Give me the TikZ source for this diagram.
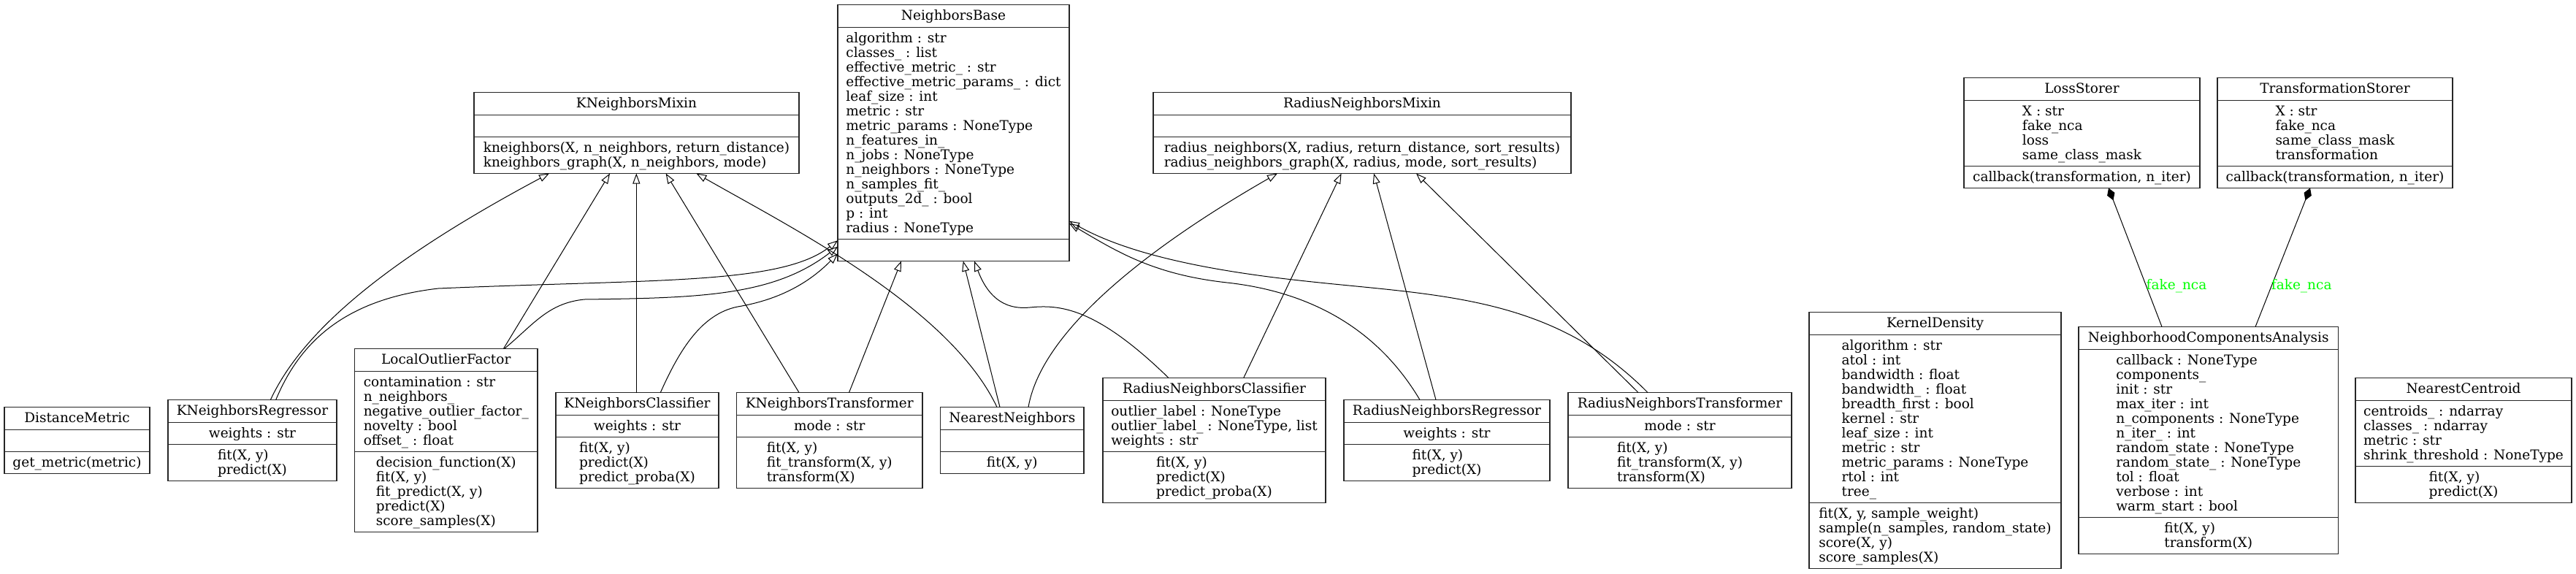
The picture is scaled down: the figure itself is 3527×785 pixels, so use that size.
\documentclass[tikz,border=0pt]{standalone}
\usepackage{fontspec}
\setmainfont{DejaVu Serif}
\usetikzlibrary{arrows.meta,calc}
\definecolor{labelgreen}{RGB}{0,255,0}
\newcommand{\fstrut}{\rule{0pt}{15pt}}
\tikzset{
 classbox/.style={draw=black!85, line width=1.3pt, inner sep=0pt, outer sep=0pt},
 classline/.style={draw=black!85, line width=1.3pt},
 txt/.style={inner sep=0pt, outer sep=0pt, font=\fontsize{18.5}{20}\selectfont},
 inh/.style={draw=black, line width=1pt, -{Triangle[open, length=14pt, width=10pt]}},
 comp/.style={draw=black, line width=1pt, {Diamond[length=18pt, width=11pt]}-},
 lbl/.style={txt, text=labelgreen}
}
% #1 name, #2 left x, #3 right x, #4 centre y, #5 title, #6 attributes, #7 n attr, #8 methods, #9 n meth
\newcommand{\umlbox}[9]{%
  \pgfmathsetmacro{\bxha}{max(20*#7+10,30)}%
  \pgfmathsetmacro{\bxhm}{max(20*#9+10,30)}%
  \pgfmathsetmacro{\bxhh}{31+\bxha+\bxhm}%
  \pgfmathsetmacro{\bxtop}{#4-\bxhh/2}%
  \pgfmathsetmacro{\bxw}{#3-#2}%
  \node[classbox, minimum width=\bxw pt, minimum height=\bxhh pt, anchor=north west] (#1) at (#2,\bxtop) {};
  \draw[classline] ($(#1.north west)+(0,31)$) -- ($(#1.north east)+(0,31)$);
  \draw[classline] ($(#1.north west)+(0,31+\bxha)$) -- ($(#1.north east)+(0,31+\bxha)$);
  \node[txt, anchor=base] (#1-t) at ($(#1.north)+(0,21.3)$) {#5};
  \node[txt, anchor=north, align=left] (#1-a) at ($(#1.north)+(0,36.5)$) {\fstrut#6};
  \node[txt, anchor=north, align=left] (#1-m) at ($(#1.north)+(0,36.5+\bxha)$) {\fstrut#8};
}
\begin{document}
\begin{tikzpicture}[x=1pt,y=-1pt]
\fill[white] (0,0) rectangle (3527,785);

% top rank
\umlbox{NB}{1147}{1464}{182}{NeighborsBase}{algorithm : str\\classes\_ : list\\effective\_metric\_ : str\\effective\_metric\_params\_ : dict\\leaf\_size : int\\metric : str\\metric\_params : NoneType\\n\_features\_in\_\\n\_jobs : NoneType\\n\_neighbors : NoneType\\n\_samples\_fit\_\\outputs\_2d\_ : bool\\p : int\\radius : NoneType}{14}{}{0}
\umlbox{KNM}{649}{1094}{182}{KNeighborsMixin}{}{0}{kneighbors(X, n\_neighbors, return\_distance)\\kneighbors\_graph(X, n\_neighbors, mode)}{2}
\umlbox{RNM}{1579}{2151}{182}{RadiusNeighborsMixin}{}{0}{radius\_neighbors(X, radius, return\_distance, sort\_results)\\radius\_neighbors\_graph(X, radius, mode, sort\_results)}{2}
\umlbox{LS}{2689}{3012}{182}{LossStorer}{X : str\\fake\_nca\\loss\\same\_class\_mask}{4}{callback(transformation, n\_iter)}{1}
\umlbox{TS}{3036}{3358}{182}{TransformationStorer}{X : str\\fake\_nca\\same\_class\_mask\\transformation}{4}{callback(transformation, n\_iter)}{1}

% bottom rank
\umlbox{DM}{6}{205}{603}{DistanceMetric}{}{0}{get\_metric(metric)}{1}
\umlbox{KNR}{230}{461}{603}{KNeighborsRegressor}{weights : str}{1}{fit(X, y)\\predict(X)}{2}
\umlbox{LOF}{485.5}{736}{603}{LocalOutlierFactor}{contamination : str\\n\_neighbors\_\\negative\_outlier\_factor\_\\novelty : bool\\offset\_ : float}{5}{decision\_function(X)\\fit(X, y)\\fit\_predict(X, y)\\predict(X)\\score\_samples(X)}{5}
\umlbox{KNC}{761}{984}{603}{KNeighborsClassifier}{weights : str}{1}{fit(X, y)\\predict(X)\\predict\_proba(X)}{3}
\umlbox{KNT}{1008.5}{1263}{603}{KNeighborsTransformer}{mode : str}{1}{fit(X, y)\\fit\_transform(X, y)\\transform(X)}{3}
\umlbox{NN}{1287.5}{1484}{603}{NearestNeighbors}{}{0}{fit(X, y)}{1}
\umlbox{RNC}{1510}{1815}{603}{RadiusNeighborsClassifier}{outlier\_label : NoneType\\outlier\_label\_ : NoneType, list\\weights : str}{3}{fit(X, y)\\predict(X)\\predict\_proba(X)}{3}
\umlbox{RNR}{1840}{2122}{603}{RadiusNeighborsRegressor}{weights : str}{1}{fit(X, y)\\predict(X)}{2}
\umlbox{RNT}{2147}{2453}{603}{RadiusNeighborsTransformer}{mode : str}{1}{fit(X, y)\\fit\_transform(X, y)\\transform(X)}{3}
\umlbox{KD}{2477}{2822}{603}{KernelDensity}{algorithm : str\\atol : int\\bandwidth : float\\bandwidth\_ : float\\breadth\_first : bool\\kernel : str\\leaf\_size : int\\metric : str\\metric\_params : NoneType\\rtol : int\\tree\_}{11}{fit(X, y, sample\_weight)\\sample(n\_samples, random\_state)\\score(X, y)\\score\_samples(X)}{4}
\umlbox{NCA}{2846}{3201.5}{603}{NeighborhoodComponentsAnalysis}{callback : NoneType\\components\_\\init : str\\max\_iter : int\\n\_components : NoneType\\n\_iter\_ : int\\random\_state : NoneType\\random\_state\_ : NoneType\\tol : float\\verbose : int\\warm\_start : bool}{11}{fit(X, y)\\transform(X)}{2}
\umlbox{NC}{3225}{3521}{603}{NearestCentroid}{centroids\_ : ndarray\\classes\_ : ndarray\\metric : str\\shrink\_threshold : NoneType}{4}{fit(X, y)\\predict(X)}{2}

% inheritance
\draw[inh] ($(KNR.north west)+(140.4,0)$) .. controls (420,440) and (560,340) .. ($(KNM.south west)+(103,0)$);
\draw[inh] ($(KNR.north west)+(147.7,0)$) .. controls (410,470) and (470,410) .. (600,395) .. controls (900,382) and (1070,390) .. ($(NB.south west)+(0,-28.2)$);
\draw[inh] ($(LOF.north west)+(203.9,0)$) -- ($(KNM.south west)+(186,0)$);
\draw[inh] ($(LOF.north west)+(205,0)$) .. controls (730,445) and (750,415) .. (800,410) .. controls (960,408) and (1060,405) .. ($(NB.south west)+(0,-19.8)$);
\draw[inh] ($(KNC.north west)+(110.3,0)$) -- ($(KNM.south west)+(222.3,0)$);
\draw[inh] ($(KNC.north west)+(143.3,0)$) .. controls (930,480) and (960,430) .. (1010,420) .. controls (1070,410) and (1110,385) .. ($(NB.south west)+(0,-10.2)$);
\draw[inh] ($(KNT.north west)+(85.5,0)$) -- ($(KNM.south west)+(262.6,0)$);
\draw[inh] ($(KNT.north west)+(154,0)$) -- ($(NB.south west)+(87,0)$);
\draw[inh] ($(NN.north west)+(77.5,0)$) .. controls (1300,420) and (1080,310) .. ($(KNM.south west)+(304.4,0)$);
\draw[inh] ($(NN.north west)+(81.5,0)$) -- ($(NB.south west)+(171.75,0)$);
\draw[inh] ($(NN.north west)+(120.5,0)$) .. controls (1430,430) and (1640,300) .. ($(RNM.south west)+(170,0)$);
\draw[inh] ($(RNC.north west)+(90,0)$) .. controls (1500,420) and (1450,417) .. (1410,421) .. controls (1370,425) and (1350,400) .. ($(NB.south west)+(187,0)$);
\draw[inh] ($(RNC.north west)+(192.7,0)$) -- ($(RNM.south west)+(257.6,0)$);
\draw[inh] ($(RNR.north west)+(104,0)$) .. controls (1880,440) and (1780,398) .. (1680,387) .. controls (1580,376) and (1530,345) .. ($(NB.south east)+(0,-51.5)$);
\draw[inh] ($(RNR.north west)+(126,0)$) -- ($(RNM.south west)+(302,0)$);
\draw[inh] ($(RNT.north west)+(109,0)$) .. controls (2120,400) and (1960,405) .. (1770,383) .. controls (1620,366) and (1530,340) .. ($(NB.south east)+(0,-54.8)$);
\draw[inh] ($(RNT.north west)+(96,0)$) -- ($(RNM.south west)+(360,0)$);

% composition
\draw[comp] ($(LS.south west)+(198,0)$) -- node[lbl, pos=0.708, anchor=west] (lab1) {fake\_nca} ($(NCA.north west)+(114,0)$);
\draw[comp] ($(TS.south west)+(127,0)$) -- node[lbl, pos=0.708, anchor=west] (lab2) {fake\_nca} ($(NCA.north west)+(242,0)$);
\end{tikzpicture}
\end{document}
